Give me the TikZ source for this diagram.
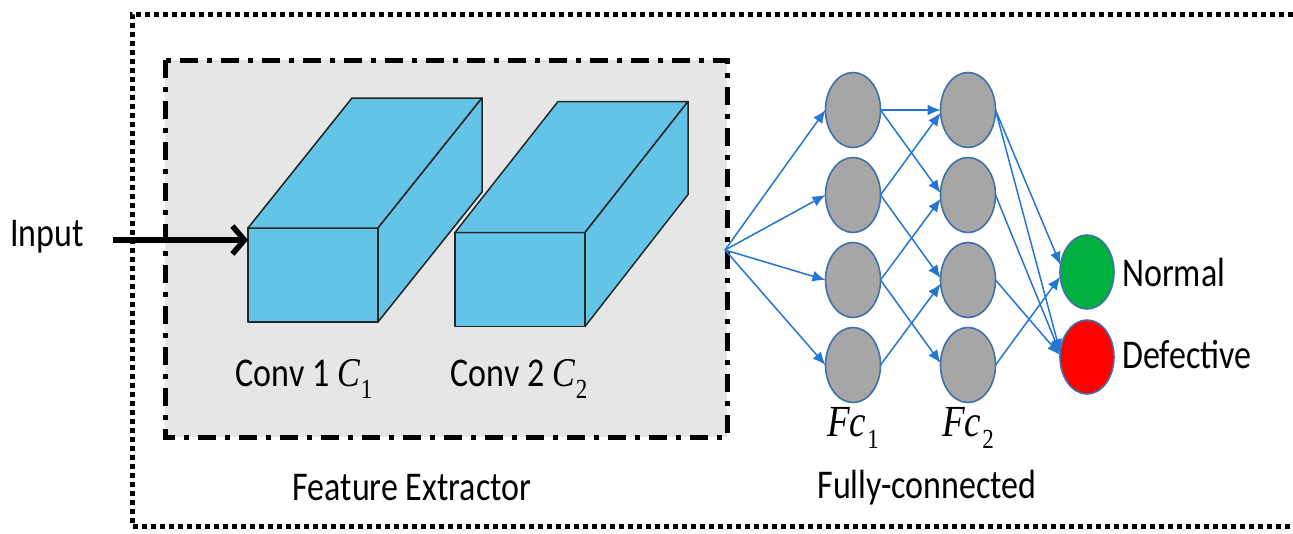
\documentclass[tikz,border=0pt]{standalone}
\usepackage{fontspec}
\setmainfont{Carlito}
\newfontfamily\serifface{Liberation Serif}
\usepackage{graphicx}
\usetikzlibrary{arrows.meta,calc,shapes.geometric}
\definecolor{cubeblue}{RGB}{100,196,232}
\definecolor{boxgray}{RGB}{230,230,230}
\definecolor{neurongray}{RGB}{166,166,166}
\definecolor{neuronedge}{RGB}{65,113,170}
\definecolor{linkblue}{RGB}{36,118,212}
\definecolor{outgreen}{RGB}{0,176,64}
\definecolor{outred}{RGB}{255,0,0}
\newcommand{\tallbox}[1]{\scalebox{1}[1.2]{#1}}
% italic variable with upright subscript
\newcommand{\varsub}[2]{{\serifface\itshape #1}\kern1pt\raisebox{-0.28em}{\fontsize{23}{25}\selectfont\serifface #2}}
\begin{document}
\begin{tikzpicture}[x=1pt,y=-1pt,
  lbl/.style={font=\fontsize{34}{40}\selectfont, inner sep=0pt},
  mlbl/.style={font=\fontsize{37}{40}\selectfont, inner sep=0pt},
  face/.style={draw=black!85, fill=cubeblue, line width=1.5pt, line join=round},
  frontface/.style={face, rectangle, minimum width=130pt, minimum height=94pt, inner sep=0pt, outer sep=0pt},
  neuron/.style={ellipse, draw=neuronedge, line width=1.6pt, fill=neurongray, minimum width=55pt, minimum height=75pt, inner sep=0pt, outer sep=0pt},
  outneuron/.style={neuron, minimum width=54pt, minimum height=74pt},
  link/.style={draw=linkblue, line width=1.5pt, -{Latex[length=13pt,width=11pt]}},
  outerframe/.style={draw=black, line width=5pt, dash pattern=on 5pt off 4pt},
  extractorbox/.style={draw=black, line width=5pt, fill=boxgray, dash pattern=on 18pt off 9pt on 5pt off 9pt},
  inarrow/.style={draw=black, line width=5.5pt, -{Straight Barb[length=12pt,width=28pt]}}
]
\useasboundingbox (0,0) rectangle (1293,533);
\fill[white] (0,0) rectangle (1293,533);
\begin{scope}
\clip (0,0) rectangle (1293,533);
% outer dotted frame (right side runs off the picture)
\draw[outerframe] (1320,14) -- (132,14) -- (132,526) -- (1320,526);
\end{scope}

% feature extractor box
\draw[extractorbox] (165,60) rectangle (727,437);

% cube 1
\node[frontface] (c1) at (313,275) {};
\draw[face] (c1.north west) -- ++(104,-130) -- ++(130,0) -- (c1.north east) -- cycle;
\draw[face] (c1.north east) -- ++(104,-130) -- ++(0,94) -- (c1.south east) -- cycle;
% cube 2
\node[frontface] (c2) at (520,279.5) {};
\draw[face] (c2.north west) -- ++(103,-131) -- ++(130,0) -- (c2.north east) -- cycle;
\draw[face] (c2.north east) -- ++(103,-131) -- ++(0,93) -- (c2.south east) -- cycle;

% input
\node[lbl, anchor=west] (inp) at (10,237) {\tallbox{Input}};
\coordinate (instart) at (113,240);
\coordinate (inend) at ($(c1.north west)+(0,12)$);
\draw[inarrow] (instart) -- (inend);

% labels
\node[lbl] (l1) at (304,379) {\tallbox{Conv 1 \varsub{C}{1}}};
\node[lbl] (l2) at (519,379) {\tallbox{Conv 2 \varsub{C}{2}}};
\node[lbl] (fe) at (412,488) {\tallbox{Feature Extractor}};
\node[lbl] (fcl) at (927,488) {\tallbox{Fully-connected}};

% neurons
\node[neuron] (f11) at (853,110) {};
\node[neuron] (f12) at (853,195) {};
\node[neuron] (f13) at (853,280) {};
\node[neuron] (f14) at (853,365) {};
\node[neuron] (f21) at (968,110) {};
\node[neuron] (f22) at (968,195) {};
\node[neuron] (f23) at (968,280) {};
\node[neuron] (f24) at (968,365) {};
\node[outneuron, fill=outgreen] (og) at (1087,272) {};
\node[outneuron, fill=outred] (orr) at (1087,357) {};

\node[mlbl] (fc1) at (853,428) {\tallbox{\varsub{Fc}{1}}};
\node[mlbl] (fc2) at (968,428) {\tallbox{\varsub{Fc}{2}}};
\node[lbl, anchor=west] (nl) at (1122,272) {\tallbox{Normal}};
\node[lbl, anchor=west] (dl) at (1122,355) {\tallbox{Defective}};

% connectors
\coordinate (src) at (725,250);
\foreach \i in {1,2,3,4} {\draw[link] (src) -- (f1\i.west);}
\draw[link] (f11.east) -- (f21.west);
\draw[link] (f11.east) -- (f22.176);
\draw[link] (f12.east) -- (f21.186);
\draw[link] (f12.east) -- (f23.176);
\draw[link] (f13.east) -- (f22.188);
\draw[link] (f13.east) -- (f24.176);
\draw[link] (f14.east) -- (f23.188);
\draw[link] (f21.east) -- (og.165);
\draw[link] (f21.east) -- (orr.170);
\draw[link] (f22.east) -- (orr.172);
\draw[link] (f23.east) -- (orr.176);
\draw[link] (f24.east) -- (og.190);
\end{tikzpicture}
\end{document}
